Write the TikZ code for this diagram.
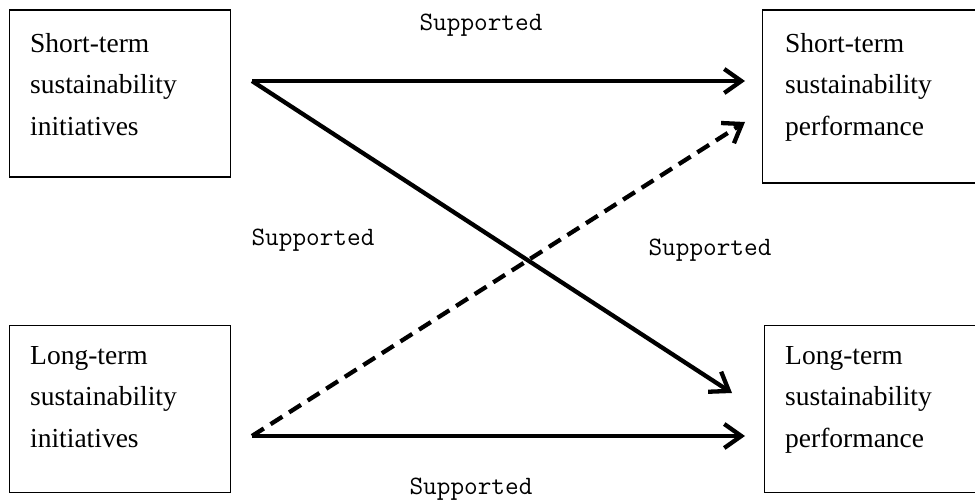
\documentclass[tikz,border=0pt]{standalone}
\usepackage{fontspec}
\setmainfont{Liberation Serif}
\usetikzlibrary{arrows.meta,calc}
\tikzset{
  boxnode/.style={draw=black, line width=1.3pt, anchor=north west, inner sep=0pt},
  boxtext/.style={anchor=north west, inner sep=0pt, align=left, font=\fontsize{27.5pt}{41.5pt}\selectfont},
  suplabel/.style={anchor=base, inner sep=0pt, font=\fontsize{26.5pt}{30pt}\ttfamily},
  conn/.style={line width=4.3pt, -{Straight Barb[length=17pt, width=24pt, line width=4.3pt]}},
  dconn/.style={conn, dash pattern=on 14pt off 8pt}
}
\begin{document}
\begin{tikzpicture}[x=1pt, y=-1pt]
\useasboundingbox (0,0) rectangle (975,500);
% boxes
\node[boxnode, minimum width=221pt, minimum height=167pt] (SLbox) at (9,9.5) {};
\node[boxnode, minimum width=240pt, minimum height=173pt] (SRbox) at (762,9.5) {};
\node[boxnode, minimum width=221pt, minimum height=167pt] (LLbox) at (9,325) {};
\node[boxnode, minimum width=240pt, minimum height=167pt] (LRbox) at (764,324.5) {};
% texts
\node[boxtext] (SLtext) at (30,33) {Short-term\\sustainability\\initiatives};
\node[boxtext] (SRtext) at (785,33) {Short-term\\sustainability\\performance};
\node[boxtext] (LLtext) at (30,346) {Long-term\\sustainability\\initiatives};
\node[boxtext] (LRtext) at (785,346) {Long-term\\sustainability\\performance};
% connector end points
\coordinate (sA) at (252,81);
\coordinate (sB) at (252,436);
\coordinate (eSP) at (745,81);
\coordinate (eSPd) at (745,122);
\coordinate (eLP) at (732,393);
\coordinate (eLPh) at (745,436);
% connectors
\draw[conn] (sA) -- (eSP);
\draw[conn] (sA) -- (eLP);
\draw[dconn] (sB) -- (eSPd);
\draw[conn] (sB) -- (eLPh);
% labels
\node[suplabel] (lab1) at (481,31) {Supported};
\node[suplabel] (lab2) at (313,245) {Supported};
\node[suplabel] (lab3) at (710,255) {Supported};
\node[suplabel] (lab4) at (471,494) {Supported};
\end{tikzpicture}
\end{document}
